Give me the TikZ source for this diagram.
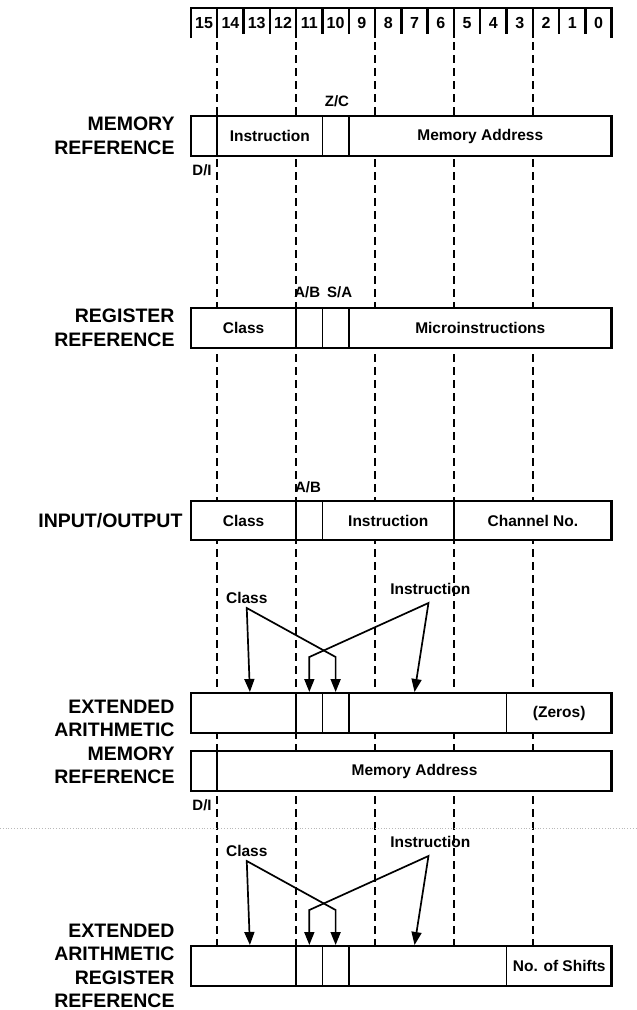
\documentclass[tikz,border=0pt]{standalone}
\usepackage{fontspec}
\setmainfont{Liberation Sans}
\usetikzlibrary{arrows.meta}

\begin{document}
\begin{tikzpicture}[x=26.3pt, y=-1pt,
	field/.style={draw, line width=2.6pt, fill=white},
	divider/.style={line width=1.8pt},
	guide/.style={line width=1.6pt, dash pattern=on 8pt off 5pt},
	pointer/.style={line width=1.7pt, {Triangle[length=13pt,width=10pt]}-{Triangle[length=13pt,width=10pt]}},
	rowname/.style={anchor=east, align=right, font=\fontsize{19.5}{23.5}\selectfont\bfseries},
	celltext/.style={font=\fontsize{15.5}{18}\selectfont\bfseries},
	flag/.style={font=\fontsize{15}{18}\selectfont\bfseries}]
	\useasboundingbox (-7.262,0) rectangle (16.958,1010);
	% bit numbers
	\draw[line width=2.6pt] (0,38) -- (0,8) -- (16,8) -- (16,38);
	\foreach \k in {1,...,15}
		\draw[line width=2.4pt] (\k,8) -- (\k,34);
	\foreach \k in {1,4,7,10,13}
		\draw[line width=2.4pt] (\k,30) -- (\k,38);
	\foreach \n in {0,...,15}
		\node[font=\fontsize{16}{18}\selectfont\bfseries] (bit\n) at ({15.5-\n},23) {\n};
	% dashed bit guides, three bits apart
	\foreach \k in {1,4,7,10,13}
		\draw[guide] (\k,42) -- (\k,945);
	% scan seam
	\draw[gray!55, dotted, line width=0.8pt] (-7.262,828) -- (16.958,828);
	% memory reference
	\draw[field] (0,116) rectangle (16,156);
	\foreach \k in {1,5,6}
		\draw[divider] (\k,116) -- (\k,156);
	\node[celltext] (mr-ins) at (3,136) {Instruction};
	\node[celltext] (mr-adr) at (11,136) {Memory Address};
	\node[flag] (mr-zc) at (5.55,101) {Z/C};
	\node[flag] (mr-di) at (0.42,170) {D/I};
	\node[rowname] (mr-name) at (-0.49,136) {MEMORY\\REFERENCE};
	% register reference
	\draw[field] (0,308) rectangle (16,348);
	\foreach \k in {4,5,6}
		\draw[divider] (\k,308) -- (\k,348);
	\node[celltext] (rr-cls) at (2,328) {Class};
	\node[celltext] (rr-mic) at (11,328) {Microinstructions};
	\node[flag] (rr-ab) at (4.42,292) {A/B};
	\node[flag] (rr-sa) at (5.65,292) {S/A};
	\node[rowname] (rr-name) at (-0.49,328) {REGISTER\\REFERENCE};
	% input/output
	\draw[field] (0,501) rectangle (16,540);
	\foreach \k in {4,5,10}
		\draw[divider] (\k,501) -- (\k,540);
	\node[celltext] (io-cls) at (2,520.5) {Class};
	\node[celltext] (io-ins) at (7.5,520.5) {Instruction};
	\node[celltext] (io-chn) at (13,520.5) {Channel No.};
	\node[flag] (io-ab) at (4.45,487) {A/B};
	\node[rowname] (io-name) at (-0.19,521) {INPUT/OUTPUT};
	% extended arithmetic memory reference, two words
	\draw[field] (0,693) rectangle (16,733);
	\foreach \k in {4,5,6,12}
		\draw[divider] (\k,693) -- (\k,733);
	\node[celltext] (em-zer) at (14,713) {(Zeros)};
	\draw[field] (0,751) rectangle (16,791);
	\draw[divider] (1,751) -- (1,791);
	\node[celltext] (em-adr) at (8.5,771) {Memory Address};
	\node[flag] (em-di) at (0.42,805) {D/I};
	\node[rowname] (em-name) at (-0.49,742) {EXTENDED\\ARITHMETIC\\MEMORY\\REFERENCE};
	% extended arithmetic register reference
	\draw[field] (0,946) rectangle (16,986);
	\foreach \k in {4,5,6,12}
		\draw[divider] (\k,946) -- (\k,986);
	\node[celltext] (er-shf) at (14,966) {No. of Shifts};
	\node[rowname] (er-name) at (-0.49,966) {EXTENDED\\ARITHMETIC\\REGISTER\\REFERENCE};
	% class and instruction pointers above both extended arithmetic words
	\foreach \t/\s in {693/em, 946/er} {
		\node[celltext] (\s-clslbl) at (2.12,{\t-95}) {Class};
		\node[celltext] (\s-inslbl) at (9.1,{\t-104}) {Instruction};
		\coordinate (\s-clsapex) at (2.12,{\t-85});
		\coordinate (\s-insapex) at (9.03,{\t-90});
		\coordinate (\s-clsbend) at (5.5,{\t-36});
		\coordinate (\s-insbend) at (4.5,{\t-36});
		\coordinate (\s-f1) at (2.24,{\t-1});
		\coordinate (\s-f11) at (4.5,{\t-1});
		\coordinate (\s-f10) at (5.5,{\t-1});
		\coordinate (\s-f9) at (8.5,{\t-1});
		\draw[pointer] (\s-f1) -- (\s-clsapex) -- (\s-clsbend) -- (\s-f10);
		\draw[pointer] (\s-f9) -- (\s-insapex) -- (\s-insbend) -- (\s-f11);
	}
\end{tikzpicture}
\end{document}
